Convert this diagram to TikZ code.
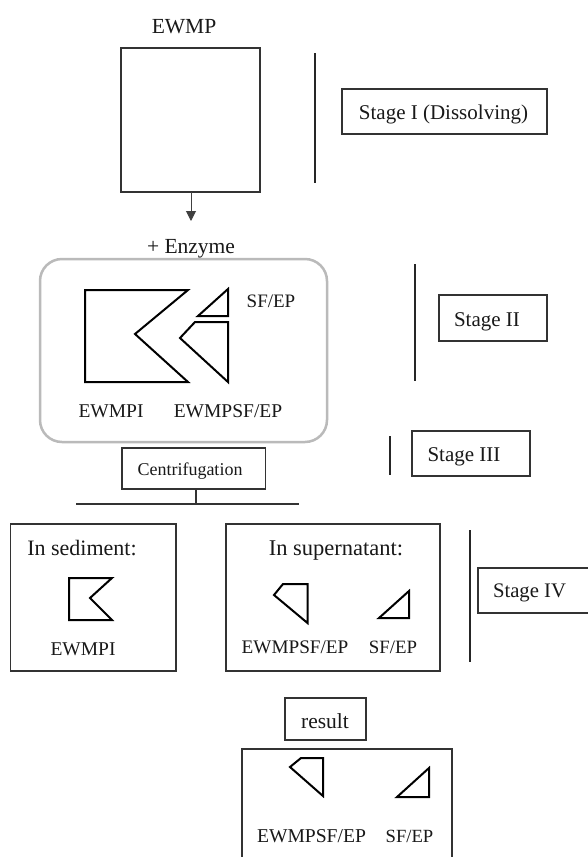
\documentclass[tikz,border=0pt]{standalone}
\usepackage{fontspec}
\setmainfont{Liberation Serif}
\usetikzlibrary{arrows.meta}
\newcommand{\fs}[1]{\fontsize{#1pt}{#1pt}\selectfont}
\tikzset{
  box/.style={draw=black!80, line width=1.4pt, inner sep=0pt, outer sep=0pt},
  stageline/.style={draw=black!85, line width=2pt},
  piece/.style={draw=black, line width=2pt, line join=miter},
  lbl/.style={inner sep=0pt, anchor=base, text=black!90},
}
\begin{document}
\begin{tikzpicture}[x=1pt,y=-1pt]
\useasboundingbox (0,0) rectangle (588,857);
\fill[white] (0,0) rectangle (588,857);

% ---------- Stage I ----------
\node[lbl, font=\fs{21.5}] (tewmp) at (184,33) {EWMP};
\node[box, minimum width=139pt, minimum height=144pt] (ewmp) at (190.5,120) {};
\draw[stageline] (315,53) -- (315,183);
\node[box, minimum width=205pt, minimum height=45pt] (s1) at (444.5,111.5) {};
\node[lbl, font=\fs{21}] (ts1) at (443.5,119) {Stage I (Dissolving)};
\coordinate (arrend) at (191,221);
\draw[line width=1pt, draw=black!75, -{Triangle[width=10pt,length=10pt]}] (ewmp.south -| arrend) -- (arrend);
\node[lbl, font=\fs{21.5}] (enz) at (191,253) {+ Enzyme};

% ---------- Stage II ----------
\node[draw=black!27, line width=2.5pt, rounded corners=22pt, minimum width=287pt, minimum height=183pt, inner sep=0pt] (mix) at (183.5,350.5) {};
\draw[piece] (85,290) -- (188,290) -- (135,334) -- (188,382) -- (85,382) -- cycle;
\draw[piece] (228,289) -- (228,316) -- (198,316) -- cycle;
\draw[piece] (195,322) -- (228,322) -- (228,382) -- (180,338) -- cycle;
\node[lbl, font=\fs{19}] (sfep2) at (271,307) {SF/EP};
\node[lbl, font=\fs{19.5}] (ewmpi2) at (111,417) {EWMPI};
\node[lbl, font=\fs{19.5}] (ewmpsf2) at (228,417) {EWMPSF/EP};
\draw[stageline] (415,264) -- (415,381);
\node[box, minimum width=108pt, minimum height=46pt] (s2) at (493,318) {};
\node[lbl, font=\fs{21}] (ts2) at (487,326) {Stage II};

% ---------- Stage III ----------
\draw[stageline] (390,436) -- (390,475);
\node[box, minimum width=118pt, minimum height=45pt] (s3) at (471,453.5) {};
\node[lbl, font=\fs{21}] (ts3) at (464,461) {Stage III};
\node[box, minimum width=143.5pt, minimum height=41pt] (cent) at (193.75,468.5) {};
\node[lbl, font=\fs{18}] (tcent) at (190,475) {Centrifugation};
\coordinate (split) at (196,504);
\coordinate (splitL) at (76,504);
\coordinate (splitR) at (299,504);
\draw[line width=1.4pt, draw=black!80] (cent.south -| split) -- (split);
\draw[line width=1.6pt, draw=black!80] (splitL) -- (splitR);

% ---------- Stage IV ----------
\node[box, minimum width=165.5pt, minimum height=147pt] (sed) at (93.25,597.5) {};
\node[lbl, font=\fs{22}] (tsed) at (82,555) {In sediment:};
\draw[piece] (69,578) -- (112,578) -- (90,598) -- (112,620) -- (69,620) -- cycle;
\node[lbl, font=\fs{19.5}] (ewmpi4) at (83,655) {EWMPI};

\node[box, minimum width=214pt, minimum height=147pt] (sup) at (333,597.5) {};
\node[lbl, font=\fs{22.5}] (tsup) at (336,555) {In supernatant:};
\draw[piece] (274,595) -- (283,584) -- (307.5,584) -- (307.5,623) -- cycle;
\draw[piece] (409,591) -- (409,618) -- (379,618) -- cycle;
\node[lbl, font=\fs{19.2}] (ewmpsf4) at (295,653) {EWMPSF/EP};
\node[lbl, font=\fs{18.8}] (sfep4) at (393,653) {SF/EP};

\draw[stageline] (470,530) -- (470,662);
\node[box, minimum width=116pt, minimum height=45pt] (s4) at (536,590.5) {};
\node[lbl, font=\fs{20.7}] (ts4) at (529.5,597) {Stage IV};

% ---------- Result ----------
\node[box, minimum width=81pt, minimum height=42pt] (res) at (325.5,719) {};
\node[lbl, font=\fs{21.5}] (tres) at (325,728) {result};
\node[box, minimum width=210pt, minimum height=125pt] (fin) at (347,811.5) {};
\draw[piece] (290,767) -- (301,758) -- (323,758) -- (323,796) -- cycle;
\draw[piece] (429,768) -- (429,797) -- (397,797) -- cycle;
\node[lbl, font=\fs{19.6}] (ewmpsf5) at (311.5,842) {EWMPSF/EP};
\node[lbl, font=\fs{18.6}] (sfep5) at (409.5,842) {SF/EP};
\end{tikzpicture}
\end{document}
